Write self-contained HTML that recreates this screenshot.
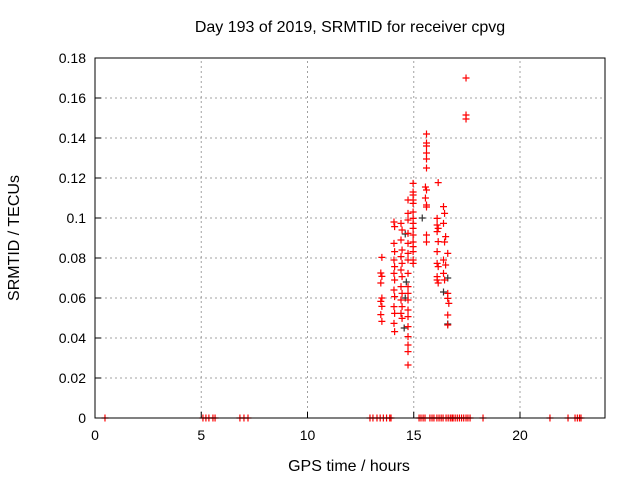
<!DOCTYPE html>
<html><head><meta charset="utf-8"><style>
body{margin:0;background:#fff}
svg text{font-family:"Liberation Sans",sans-serif;font-size:14px;fill:#000}
svg text.big{font-size:16px}
</style></head><body>
<svg id="chart" width="640" height="480">
<text class="big" x="350" y="32" text-anchor="middle">Day 193 of 2019, SRMTID for receiver cpvg</text>
<text class="big" x="349" y="471" text-anchor="middle">GPS time / hours</text>
<text class="big" transform="translate(19,238) rotate(-90)" text-anchor="middle">SRMTID / TECUs</text>
<g id="grid"></g><g id="marks"></g>
<rect x="95" y="58" width="510" height="360" fill="none" stroke="#000" stroke-width="1"/>
</svg>
<script>
const xTicks=[0,5,10,15,20];
const yTicks=[0,0.02,0.04,0.06,0.08,0.1,0.12,0.14,0.16,0.18];
const yTickLabels=["0","0.02","0.04","0.06","0.08","0.1","0.12","0.14","0.16","0.18"];
const redHours=[17.46,17.46,17.46,15.6,15.6,15.6,15.6,15.6,15.6,15.55,15.6,15.55,15.6,15.6,16.15,
14.97,14.97,14.97,14.97,14.97,14.97,14.97,14.97,14.97,14.97,14.97,14.97,14.97,14.97,14.97,
14.73,14.73,14.73,14.73,14.73,14.73,14.73,14.73,14.73,14.73,14.73,14.73,14.73,14.73,14.73,14.73,14.73,14.73,
14.4,14.45,14.4,14.45,14.4,14.45,14.4,14.45,14.4,14.45,14.4,14.45,14.4,14.45,
14.07,14.1,14.07,14.1,14.07,14.1,14.07,14.1,14.07,14.1,14.07,14.1,14.07,14.1,
13.5,13.45,13.5,13.45,13.5,13.45,13.5,13.45,13.5,
15.6,15.6,16.1,16.1,16.15,16.1,16.15,16.1,16.1,16.15,16.1,16.1,16.15,
16.4,16.45,16.4,16.5,16.45,16.6,16.4,16.5,16.4,16.45,16.6,16.6,16.65,16.6,16.6];
const redValues=[0.170,0.1515,0.1495,0.142,0.1375,0.136,0.1325,0.1295,0.125,0.1155,0.114,0.110,0.1065,0.1055,0.1177,
0.1173,0.113,0.1115,0.109,0.1073,0.103,0.0998,0.0973,0.0948,0.0915,0.088,0.0857,0.0832,0.079,0.0773,
0.109,0.1023,0.099,0.0923,0.0873,0.0823,0.079,0.0723,0.0657,0.0623,0.059,0.054,0.0507,0.0457,0.0407,0.0365,0.0332,0.0265,
0.0973,0.094,0.089,0.084,0.0807,0.0773,0.074,0.0707,0.0657,0.0623,0.059,0.0557,0.0523,0.0498,
0.098,0.0957,0.0873,0.0832,0.079,0.0757,0.0723,0.069,0.064,0.0607,0.0557,0.0523,0.0473,0.0432,
0.0803,0.0725,0.0708,0.0675,0.06,0.0583,0.0558,0.0517,0.0483,
0.0915,0.088,0.0998,0.0965,0.0948,0.0932,0.0882,0.0832,0.0773,0.0757,0.0707,0.069,0.0675,
0.1057,0.1023,0.0973,0.0907,0.088,0.0823,0.079,0.0765,0.0723,0.069,0.0623,0.0598,0.0573,0.0515,0.0465];
const zeroHours=[0.47,5.08,5.22,5.36,5.55,5.65,6.82,7.01,7.2,12.94,13.08,13.27,13.42,13.57,13.72,13.87,13.93,
15.25,15.34,15.44,15.53,15.76,15.86,15.95,16.09,16.19,16.29,16.38,16.52,16.62,16.72,16.8,16.85,16.95,17.05,17.15,17.25,17.35,17.46,17.55,17.65,18.26,21.41,22.26,22.59,22.7,22.8,22.87];
const grayHours=[14.6,14.55,14.65,16.6,16.6,16.4,14.6,15.4];
const grayValues=[0.06,0.045,0.068,0.07,0.047,0.063,0.092,0.10];
const NS='http://www.w3.org/2000/svg';
const X0=95,X1=605,Y0=418,Y1=58,XMAX=24,YMAX=0.18;
function xs(h){return X0+h/XMAX*(X1-X0);}
function ys(v){return Y0-v/YMAX*(Y0-Y1);}
const grid=document.getElementById('grid'),marks=document.getElementById('marks');
function mk(t,a,p){const e=document.createElementNS(NS,t);for(const k in a)e.setAttribute(k,a[k]);p.appendChild(e);return e;}
xTicks.forEach(t=>{const x=xs(t);
 if(t>0){const g=mk('line',{x1:x,y1:Y0,x2:x,y2:Y1,stroke:'#a0a0a0','stroke-dasharray':'2,3'},grid);
 
 }
 const tk=mk('line',{x1:x,y1:Y0,x2:x,y2:Y0-6,stroke:'#000'},grid);
 
 
 const l=mk('text',{x:x,y:Y0+22,'text-anchor':'middle'},grid);l.textContent=t;
 
 });
yTicks.forEach((t,i)=>{const y=ys(t);
 if(t>0&&t<0.18){const g=mk('line',{x1:X0,y1:y,x2:X1,y2:y,stroke:'#a0a0a0','stroke-dasharray':'2,3'},grid);
 
 }
 const tk=mk('line',{x1:X0,y1:y,x2:X0+6,y2:y,stroke:'#000'},grid);
 
 
 const l=mk('text',{x:X0-9,y:y+5,'text-anchor':'end'},grid);l.textContent=yTickLabels[i];
 
 });
function plus(h,v,c){const x=xs(h),y=ys(v);
 const p=mk('path',{d:`M${x-3.5},${y}H${x+3.5}M${x},${y-3.5}V${y+3.5}`,stroke:c,'stroke-width':1.2,fill:'none'},marks);
 
 }
grayHours.forEach((h,i)=>plus(h,grayValues[i],'#333'));
redHours.forEach((h,i)=>plus(h,redValues[i],'#f00'));
zeroHours.forEach(h=>plus(h,0,'#f00'));
</script>
</body></html>
